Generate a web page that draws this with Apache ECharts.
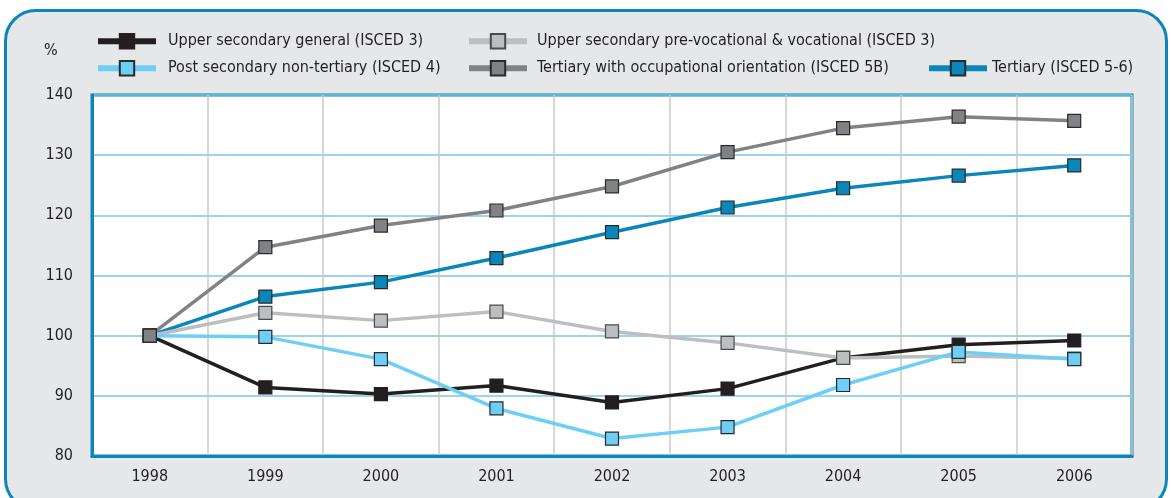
<!DOCTYPE html>
<html>
<head>
<meta charset="utf-8">
<script src="https://cdn.jsdelivr.net/npm/echarts@6/dist/echarts.min.js"></script>
<style>
	html, body { margin: 0; padding: 0; background: #ffffff; overflow: hidden; }
	.panel {
		position: absolute; left: 4px; top: 9px; width: 1158px; height: 496px;
		background: #e6e7e8; border: 3px solid #0a86bb; border-radius: 32px;
	}
	#chart { position: absolute; left: 0; top: 0; width: 1171px; height: 498px; }
</style>
</head>
<body>
<div class="panel"></div>
<div id="chart"></div>
<script>
	// years on the x axis
	var years = ['1998', '1999', '2000', '2001', '2002', '2003', '2004', '2005', '2006'];
	// index values, 1998 = 100
	var upperGeneral = [100, 91.4, 90.3, 91.7, 88.9, 91.2, 96.3, 98.5, 99.2];
	var upperVocational = [100, 103.8, 102.5, 104.0, 100.7, 98.8, 96.3, 96.6, 96.2];
	var postSecondary = [100, 99.8, 96.1, 87.9, 82.9, 84.8, 91.8, 97.3, 96.1];
	var tertiary5B = [100, 114.7, 118.3, 120.8, 124.8, 130.5, 134.5, 136.4, 135.7];
	var tertiaryAll = [100, 106.5, 108.9, 112.9, 117.2, 121.3, 124.5, 126.6, 128.3];
	var names = [
		'Upper secondary general (ISCED 3)',
		'Upper secondary pre-vocational & vocational (ISCED 3)',
		'Post secondary non-tertiary (ISCED 4)',
		'Tertiary with occupational orientation (ISCED 5B)',
		'Tertiary (ISCED 5-6)'
	];

	var font = '"DejaVu Sans Condensed", "Liberation Sans Narrow", sans-serif';

	function makeSeries(name, data, lineColor, fill, border) {
		return {
			name: name,
			type: 'line',
			data: data,
			symbol: 'rect',
			symbolSize: 13,
			lineStyle: { color: lineColor, width: 3.5 },
			itemStyle: { color: fill, borderColor: border, borderWidth: 1.2 },
			emphasis: { disabled: true }
		};
	}

	function makeLegend(name, left, top, pad) {
		return {
			data: [name],
			left: left,
			top: top,
			itemWidth: 58,
			itemHeight: 18,
			padding: 0,
			lineStyle: { width: 6 },
			textStyle: { fontFamily: font, fontSize: 16, color: '#231f20', padding: [0, 0, 0, pad] }
		};
	}

	var chart = echarts.init(document.getElementById('chart'));
	var option = {
		animation: false,
		title: {
			text: '%', left: 44, top: 43, padding: 0,
			textStyle: { fontFamily: font, fontSize: 16, fontWeight: 'normal', color: '#231f20' }
		},
		legend: [
			makeLegend(names[0], 95, 33, 7),
			makeLegend(names[1], 466, 33, 5),
			makeLegend(names[2], 95, 60, 7),
			makeLegend(names[3], 466, 60, 5),
			makeLegend(names[4], 926, 60, 0)
		],
		grid: {
			left: 92, top: 95, width: 1040, height: 361,
			show: true, backgroundColor: '#ffffff', borderColor: '#0a86bb', borderWidth: 3
		},
		xAxis: {
			type: 'category',
			data: years,
			boundaryGap: true,
			axisLine: { lineStyle: { color: '#0a86bb', width: 3 } },
			axisTick: { show: false },
			axisLabel: { fontFamily: font, fontSize: 16, color: '#231f20', margin: 13 },
			splitLine: { show: true, lineStyle: { color: '#cacacc', width: 1.5 } }
		},
		yAxis: {
			type: 'value',
			min: 80, max: 140, interval: 10,
			axisLine: { show: true, lineStyle: { color: '#0a86bb', width: 3 } },
			axisTick: { show: false },
			axisLabel: { fontFamily: font, fontSize: 16, color: '#231f20', margin: 19, padding: [4, 0, 0, 0] },
			splitLine: { lineStyle: { color: '#7cc6e4', width: 1.5 } }
		},
		series: [
			makeSeries(names[0], upperGeneral, '#231f20', '#231f20', '#231f20'),
			makeSeries(names[4], tertiaryAll, '#0a86bb', '#0a86bb', '#2a2a2a'),
			makeSeries(names[1], upperVocational, '#bcbec0', '#bcbec0', '#4a4a4a'),
			makeSeries(names[2], postSecondary, '#6dcff6', '#6dcff6', '#2a2a2a'),
			makeSeries(names[3], tertiary5B, '#808285', '#808285', '#2a2a2a')
		]
	};
	chart.setOption(option);
</script>
</body>
</html>
